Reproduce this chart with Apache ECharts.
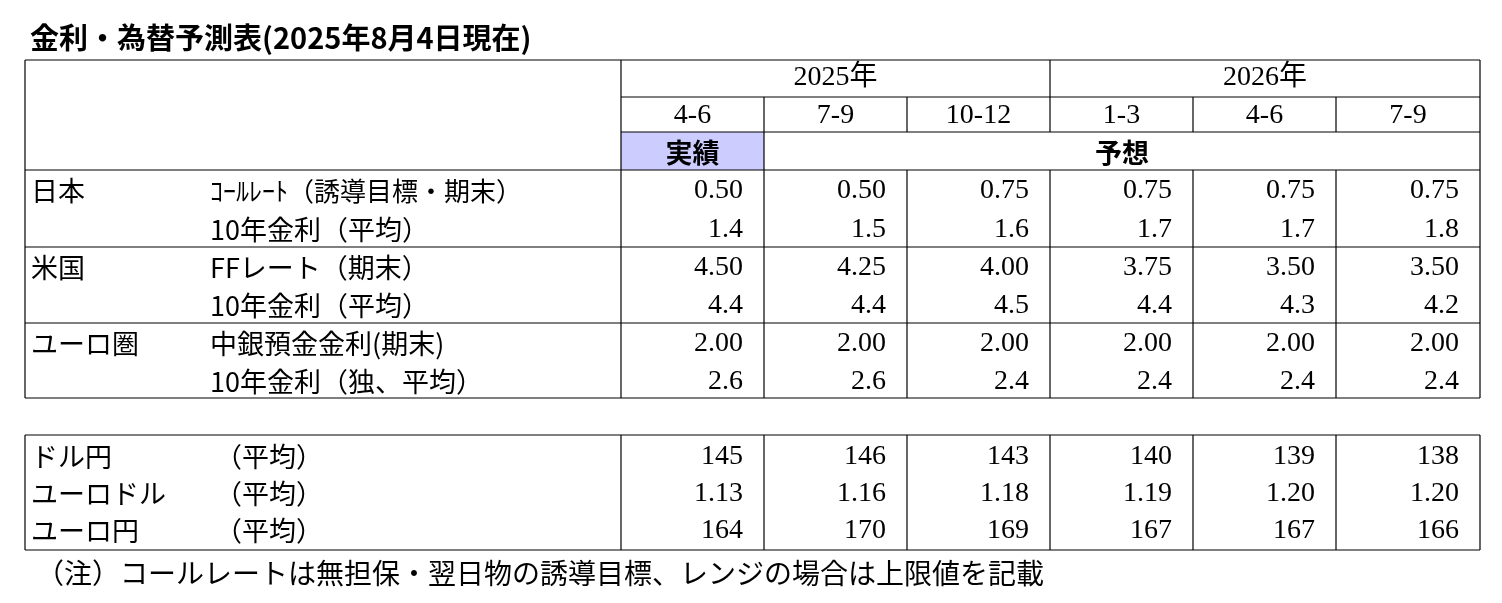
<!DOCTYPE html>
<html><head><meta charset="utf-8">
<script src="https://cdn.jsdelivr.net/npm/echarts@6/dist/echarts.min.js"></script>
<style>html,body{margin:0;background:#fff}#c{width:1502px;height:603px}</style>
</head><body><div id="c"></div>
<script>
// ---- data ----
const title = '金利・為替予測表(2025年8月4日現在)';
const note = '（注）コールレートは無担保・翌日物の誘導目標、レンジの場合は上限値を記載';
const years = ['2025年', '2026年'];
const quarters = ['4-6', '7-9', '10-12', '1-3', '4-6', '7-9'];
const actualLabel = '実績';
const forecastLabel = '予想';
const groups = ['日本', '米国', 'ユーロ圏'];
const rateLabels = ['ｺｰﾙﾚｰﾄ（誘導目標・期末）', '10年金利（平均）', 'FFレート（期末）', '10年金利（平均）', '中銀預金金利(期末)', '10年金利（独、平均）'];
const jpCall = [0.50, 0.50, 0.75, 0.75, 0.75, 0.75];
const jp10y = [1.4, 1.5, 1.6, 1.7, 1.7, 1.8];
const usFF = [4.50, 4.25, 4.00, 3.75, 3.50, 3.50];
const us10y = [4.4, 4.4, 4.5, 4.4, 4.3, 4.2];
const euDep = [2.00, 2.00, 2.00, 2.00, 2.00, 2.00];
const eu10y = [2.6, 2.6, 2.4, 2.4, 2.4, 2.4];
const fxLabels = ['ドル円', 'ユーロドル', 'ユーロ円'];
const fxSub = ['（平均）', '（平均）', '（平均）'];
const usdjpy = [145, 146, 143, 140, 139, 138];
const eurusd = [1.13, 1.16, 1.18, 1.19, 1.20, 1.20];
const eurjpy = [164, 170, 169, 167, 167, 166];

// ---- layout (styles) ----
const colX = [25, 621, 764, 907, 1050, 1193, 1336, 1480];
const rateRowY = [191, 230, 268, 306, 344, 382];
const fxRowY = [457, 494, 531];
const serif = '"Liberation Serif","Noto Sans CJK JP",serif';
const jp = '"Noto Sans CJK JP",sans-serif';
const FS = 28;
const JFS = 27;

const rateSeries = [[jpCall,2],[jp10y,1],[usFF,2],[us10y,1],[euDep,2],[eu10y,1]];
const fxSeries = [[usdjpy,0],[eurusd,2],[eurjpy,0]];

const cells = [];
cells.push({x: 30, y: 38, t: title, font: '600 29px ' + jp, align: 'left'});
cells.push({x: 36, y: 573, t: note, font: '28px ' + jp, align: 'left'});
years.forEach((y, i) => cells.push({x: (colX[1 + i*3] + colX[4 + i*3]) / 2, y: 78, t: y, font: FS + 'px ' + serif, align: 'center'}));
quarters.forEach((q, i) => cells.push({x: (colX[1+i] + colX[2+i]) / 2, y: 116, t: q, font: FS + 'px ' + serif, align: 'center'}));
cells.push({x: (colX[1]+colX[2])/2, y: 153, t: actualLabel, font: 'bold 27px ' + jp, align: 'center'});
cells.push({x: (colX[2]+colX[7])/2, y: 153, t: forecastLabel, font: 'bold 27px ' + jp, align: 'center'});
groups.forEach((g, i) => cells.push({x: 31, y: rateRowY[i*2], t: g, font: JFS + 'px ' + jp, align: 'left'}));
rateLabels.forEach((l, i) => cells.push({x: 210, y: rateRowY[i], t: l, font: (i===0?26:JFS) + 'px ' + jp, align: 'left'}));
rateSeries.forEach(([vals, d], r) => vals.forEach((v, c) => cells.push({x: colX[2+c] - 21, y: rateRowY[r], t: v.toFixed(d), font: FS + 'px ' + serif, align: 'right'})));
fxLabels.forEach((l, i) => { cells.push({x: 31, y: fxRowY[i], t: l, font: JFS + 'px ' + jp, align: 'left'}); cells.push({x: 215, y: fxRowY[i], t: fxSub[i], font: JFS + 'px ' + jp, align: 'left'}); });
fxSeries.forEach(([vals, d], r) => vals.forEach((v, c) => cells.push({x: colX[2+c] - 21, y: fxRowY[r], t: v.toFixed(d), font: FS + 'px ' + serif, align: 'right'})));

// lines [x1,y1,x2,y2]
const L = [];
L.push([25,60,1480,60],[621,97,1480,97],[621,132,1480,132],[25,170,1480,170],[25,247,1480,247],[25,323,1480,323],[25,398,1480,398]);
L.push([25,435,1480,435],[25,550,1480,550]);
L.push([25,60,25,398],[1480,60,1480,398],[621,60,621,398],[1050,60,1050,132],[1050,170,1050,398]);
[2,3,5,6].forEach(i => { L.push([colX[i],97,colX[i],132],[colX[i],170,colX[i],398]); });
L.push([colX[2],132,colX[2],170]);
colX.forEach(x => L.push([x,435,x,550]));

const chart = echarts.init(document.getElementById('c'));
chart.setOption({
  animation: false,
  grid: {left: 0, right: 0, top: 0, bottom: 0},
  xAxis: {type: 'value', min: 0, max: 1502, show: false},
  yAxis: {type: 'value', min: 0, max: 603, inverse: true, show: false},
  series: [
    {type: 'custom', data: [0], renderItem: (p, api) => {
      const a = api.coord([colX[1], 132]), b = api.coord([colX[2], 170]);
      const ch = [{type: 'rect', shape: {x: a[0], y: a[1], width: b[0]-a[0], height: b[1]-a[1]}, style: {fill: '#ccccff'}}];
      L.forEach(l => { const s = api.coord([l[0], l[1]]), e = api.coord([l[2], l[3]]);
        ch.push({type: 'line', shape: {x1: s[0], y1: s[1], x2: e[0], y2: e[1]}, style: {stroke: '#000', lineWidth: 1.2}}); });
      return {type: 'group', children: ch};
    }},
    {type: 'custom', data: cells.map((c, i) => [c.x, c.y, i]), renderItem: (p, api) => {
      const c = cells[api.value(2)]; const pt = api.coord([api.value(0), api.value(1)]);
      return {type: 'text', x: pt[0], y: pt[1], style: {text: c.t, font: c.font, fill: '#000', align: c.align, verticalAlign: 'middle'}};
    }}
  ]
});
</script></body></html>
